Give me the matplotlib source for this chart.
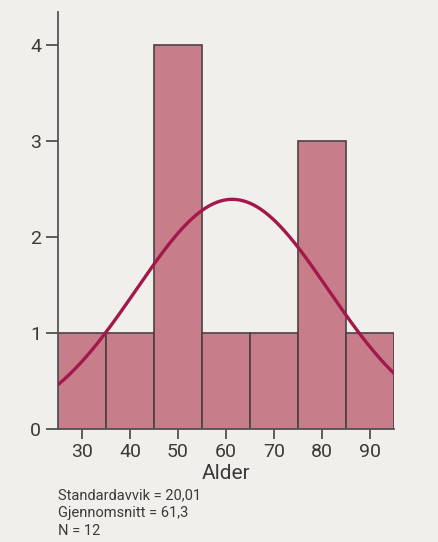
"""
Histogram of age (Alder) with a fitted normal curve.
"""

import numpy as np
import matplotlib.pyplot as plt

# ---- Data ----

bin_edges = [25, 35, 45, 55, 65, 75, 85, 95]
counts = [1, 1, 4, 1, 1, 3, 1]
x_ticks = [30, 40, 50, 60, 70, 80, 90]
y_ticks = [0, 1, 2, 3, 4]

std_dev = 20.01
mean = 61.3
n_obs = 12

bg = '#f0efeb'
bar_color = '#c87d8a'
edge_color = '#4a4242'
curve_color = '#a3184a'
text_color = '#3a3a3a'

plt.rcParams['font.family'] = ['Roboto', 'DejaVu Sans']

# ---- Plot ----

fig = plt.figure(figsize=(4.38, 5.42), dpi=100, facecolor=bg)
ax = fig.add_axes([58 / 438, 1 - 429 / 542, 336 / 438, 417 / 542])
ax.set_facecolor(bg)

widths = np.diff(bin_edges)
ax.bar(bin_edges[:-1], counts, width=widths, align='edge',
       color=bar_color, edgecolor=edge_color, linewidth=1.2, zorder=2)

# Fitted normal curve scaled to counts (N * bin width * pdf)
xs = np.linspace(bin_edges[0], bin_edges[-1], 300)
bw = widths[0]
ys = n_obs * bw / (std_dev * np.sqrt(2 * np.pi)) * np.exp(-0.5 * ((xs - mean) / std_dev) ** 2)
ax.plot(xs, ys, color=curve_color, linewidth=2.4, zorder=3, solid_capstyle='butt')

ax.set_xlim(bin_edges[0], bin_edges[-1])
ax.set_ylim(0, 417 / 96)
ax.set_xticks(x_ticks)
ax.set_yticks(y_ticks)
ax.tick_params(axis='both', colors='#444444', labelcolor=text_color, labelsize=14)
ax.tick_params(axis='y', length=9, width=1.2, pad=3)
ax.tick_params(axis='x', length=7, width=1.2, pad=3)

for side in ['top', 'right']:
    ax.spines[side].set_visible(False)
for side in ['left', 'bottom']:
    ax.spines[side].set_color('#555555')
    ax.spines[side].set_linewidth(1.3)

ax.set_xlabel('Alder', fontsize=15, color=text_color, labelpad=2)

stats_text = (f'Standardavvik = {std_dev:.2f}'.replace('.', ',') + '\n'
              + f'Gjennomsnitt = {mean:.1f}'.replace('.', ',') + '\n'
              + f'N = {n_obs}')
fig.text(58 / 438, 1 - 488 / 542, stats_text, fontsize=10.5, color=text_color,
         va='top', ha='left', linespacing=1.35)

plt.savefig('out.png', dpi=100, facecolor=bg)
